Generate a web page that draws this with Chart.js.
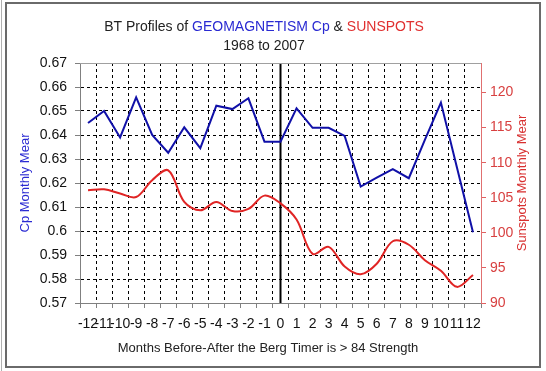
<!DOCTYPE html>
<html>
<head>
<meta charset="utf-8">
<script src="https://cdn.jsdelivr.net/npm/chart.js@4.4.1/dist/chart.umd.min.js"></script>
<style>
  html, body { margin: 0; padding: 0; background: #fff; }
  #wrap { width: 546px; height: 371px; position: relative; }
</style>
</head>
<body>
<div id="wrap"><canvas id="c" width="546" height="371"></canvas></div>
<script>
// ---- Data ----
const months = ['-12','-11','-10','-9','-8','-7','-6','-5','-4','-3','-2','-1','0','1','2','3','4','5','6','7','8','9','10','11','12'];
const cpMonthlyMean = [0.645,0.650,0.639,0.6557,0.640,0.6326,0.6432,0.6345,0.6522,0.6508,0.6553,0.6372,0.6372,0.6511,0.643,0.643,0.6396,0.6185,0.6222,0.6258,0.622,0.638,0.6535,0.6265,0.5995];
const sunspotsMonthlyMean = [106.05,106.2,105.6,105.1,107.5,108.9,104.4,103.2,104.4,103.1,103.4,105.3,104.2,101.9,97.0,98.0,95.2,94.1,95.6,98.8,98.3,96.1,94.6,92.3,94.0];
const titleParts = [['BT Profiles of ', '#222'], ['GEOMAGNETISM Cp', '#2a2ad2'], [' & ', '#222'], ['SUNSPOTS', '#e03030']];
const subtitle = '1968 to 2007';
const xTitle = 'Months Before-After the Berg Timer is > 84 Strength';
const yTitle = 'Cp Monthly Mear';
const y1Title = 'Sunspots Monthly Mear';
const zeroMonth = '0';

const FONT = '"Liberation Sans", Arial, sans-serif';

const decor = {
  id: 'decor',
  beforeDraw(chart) {
    const c = chart.ctx;
    c.save();
    c.fillStyle = '#fff';
    c.fillRect(0, 0, chart.width, chart.height);
    c.restore();
  },
  beforeDatasetsDraw(chart) {
    const c = chart.ctx, a = chart.chartArea;
    const x = chart.scales.x.getPixelForValue(months.indexOf(zeroMonth));
    c.save();
    c.strokeStyle = '#000';
    c.lineWidth = 2;
    c.beginPath();
    c.moveTo(x, a.top);
    c.lineTo(x, a.bottom);
    c.stroke();
    c.restore();
  },
  afterDraw(chart) {
    const c = chart.ctx, a = chart.chartArea;
    c.save();
    // top border of plot area
    c.strokeStyle = '#a0a0a0';
    c.lineWidth = 1;
    c.beginPath();
    c.moveTo(a.left, a.top + 0.5);
    c.lineTo(a.right, a.top + 0.5);
    c.stroke();
    // Title
    c.font = '14px ' + FONT;
    c.textBaseline = 'middle';
    c.textAlign = 'left';
    let total = 0;
    titleParts.forEach(p => total += c.measureText(p[0]).width);
    let tx = 264 - total / 2;
    titleParts.forEach(p => {
      c.fillStyle = p[1];
      c.fillText(p[0], tx, 27);
      tx += c.measureText(p[0]).width;
    });
    c.fillStyle = '#222';
    c.textAlign = 'center';
    c.fillText(subtitle, 264, 46);
    // x title
    c.font = '13px ' + FONT;
    c.fillText(xTitle, 268, 348);
    // y titles
    const midY = (a.top + a.bottom) / 2;
    c.save();
    c.translate(25, midY);
    c.rotate(-Math.PI / 2);
    c.fillStyle = '#2a2ad2';
    c.fillText(yTitle, 0, 0);
    c.restore();
    c.save();
    c.translate(522, midY);
    c.rotate(-Math.PI / 2);
    c.fillStyle = '#d83030';
    c.fillText(y1Title, 0, 0);
    c.restore();
    // outer frame
    c.strokeStyle = '#6a6a6a';
    c.lineWidth = 2;
    c.strokeRect(6, 3, 534, 364);
    c.strokeStyle = '#b0b0b0';
    c.lineWidth = 1;
    c.beginPath();
    c.moveTo(1.5, 0);
    c.lineTo(1.5, 371);
    c.stroke();
    c.restore();
  }
};

new Chart(document.getElementById('c'), {
  type: 'line',
  data: {
    labels: months,
    datasets: [
      {
        label: 'Cp',
        data: cpMonthlyMean,
        yAxisID: 'y',
        borderColor: '#1010a8',
        borderWidth: 2,
        pointRadius: 0,
        tension: 0,
        fill: false
      },
      {
        label: 'Sunspots',
        data: sunspotsMonthlyMean,
        yAxisID: 'y1',
        borderColor: '#e02424',
        borderWidth: 2,
        pointRadius: 0,
        tension: 0.35,
        fill: false
      }
    ]
  },
  options: {
    responsive: false,
    animation: false,
    devicePixelRatio: 1,
    layout: { padding: { top: 63, left: 0, right: 0, bottom: 0 } },
    plugins: { legend: { display: false }, tooltip: { enabled: false }, title: { display: false } },
    scales: {
      x: {
        type: 'category',
        offset: true,
        grid: { offset: true, color: '#000', lineWidth: 1, tickColor: '#808080', tickLength: 5 },
        border: { dash: [3, 3], color: '#808080', width: 1 },
        ticks: { color: '#111', font: { family: FONT, size: 14 }, autoSkip: false, maxRotation: 0, minRotation: 0, padding: 8 },
        afterFit(s) { s.height = 68; }
      },
      y: {
        position: 'left',
        min: 0.57,
        max: 0.67,
        grid: { color: '#000', lineWidth: 1, tickColor: '#808080', tickLength: 5 },
        border: { dash: [3, 3], color: '#808080', width: 1 },
        ticks: {
          stepSize: 0.01,
          color: '#111',
          font: { family: FONT, size: 14 },
          padding: 8,
          callback: v => String(Number(v.toFixed(2)))
        },
        afterFit(s) { s.width = 80; }
      },
      y1: {
        position: 'right',
        min: 90,
        max: 124.2,
        grid: { drawOnChartArea: false, color: '#e06060', tickColor: '#e06060', tickLength: 5 },
        border: { color: '#e07070', width: 1 },
        ticks: {
          stepSize: 5,
          includeBounds: false,
          color: '#d84040',
          font: { family: FONT, size: 14 },
          padding: 4
        },
        afterFit(s) { s.width = 65; }
      }
    }
  },
  plugins: [decor]
});
</script>
</body>
</html>
